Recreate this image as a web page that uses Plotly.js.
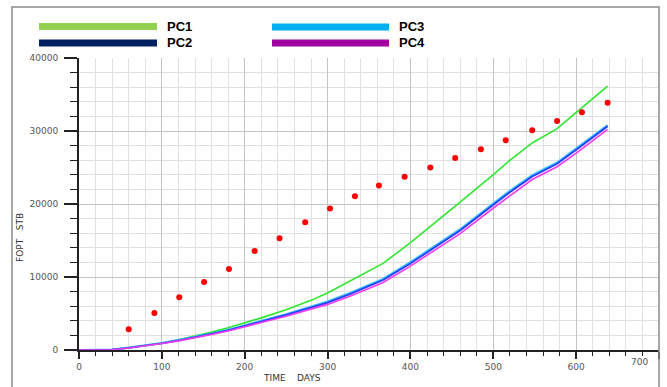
<!DOCTYPE html>
<html>
<head>
<meta charset="utf-8">
<script src="https://cdn.plot.ly/plotly-3.0.1.min.js"></script>
<style>
html,body{margin:0;padding:0;background:#fff;}
#chart{width:667px;height:387px;}
</style>
</head>
<body>
<div id="chart"></div>
<script>
// Observed data (red dots)
const obsDays = [60, 91, 121, 151, 181, 212, 242, 273, 303, 333, 362, 393, 424, 454, 485, 515, 547, 577, 607, 638];
const obsFOPT = [2840, 5070, 7220, 9320, 11100, 13560, 15300, 17500, 19400, 21070, 22530, 23730, 25010, 26300, 27490, 28730, 30100, 31380, 32580, 33860];

// Simulated curves
const simDays = [0, 20, 40, 60, 80, 100, 120, 140, 160, 180, 200, 220, 250, 280, 300, 327, 367, 399, 436, 460, 499, 520, 547, 577, 601, 638];
const pc1 = [0, 0, 60, 300, 600, 950, 1400, 1900, 2450, 3050, 3700, 4400, 5500, 6800, 7800, 9480, 11860, 14620, 17960, 20250, 23920, 25970, 28360, 30330, 32620, 36150];
const pc2 = [0, 0, 50, 300, 580, 920, 1300, 1700, 2200, 2700, 3250, 3900, 4800, 5800, 6500, 7660, 9580, 11780, 14550, 16360, 19790, 21600, 23780, 25520, 27500, 30640];
const pc3 = [0, 0, 60, 320, 610, 960, 1350, 1760, 2260, 2770, 3330, 3990, 4900, 5920, 6630, 7800, 9730, 11950, 14720, 16540, 19980, 21800, 23960, 25680, 27680, 30800];
const pc4 = [0, 0, 40, 280, 550, 880, 1250, 1640, 2120, 2600, 3130, 3760, 4620, 5580, 6250, 7380, 9250, 11420, 14150, 15950, 19350, 21150, 23350, 25100, 27050, 30230];

// Legend
const legendNames = ["PC1", "PC2", "PC3", "PC4"];
const legendColors = ["#92d050", "#002060", "#00b0f0", "#a000a0"];

// Axis ticks
const xTicks = [0, 100, 200, 300, 400, 500, 600, 700];
const xTickText = ["0", "100", "200", "300", "400", "500", "600", "700"];
const yTicks = [0, 10000, 20000, 30000, 40000];
const yTickText = ["0", "10000", "20000", "30000", "40000"];

const traces = [
  {x: simDays, y: pc1, mode: 'lines', line: {color: '#2ee62e', width: 1.6}, name: 'PC1'},
  {x: simDays, y: pc3, mode: 'lines', line: {color: '#38c4ff', width: 2.2}, name: 'PC3'},
  {x: simDays, y: pc2, mode: 'lines', line: {color: '#2a3cff', width: 1.8}, name: 'PC2'},
  {x: simDays, y: pc4, mode: 'lines', line: {color: '#f03cf0', width: 1.6}, name: 'PC4'},
  {x: obsDays, y: obsFOPT, mode: 'markers', marker: {color: '#ff0000', size: 6}, name: 'OBS'}
];

const axisFont = {family: 'DejaVu Sans, sans-serif', size: 9, color: '#555'};

// Pixel helpers (plot area: 79..659 x, 58..350 y)
const L = 79, R = 659, T = 58, B = 350;
const px = v => (v - L) / (R - L);
const py = v => (B - v) / (B - T);

// the last x label sits left of its tick in the reference: drawn as an annotation at that tick
const lastIdx = xTickText.length - 1;
const xTickShown = xTickText.map((t, i) => i === lastIdx ? '' : t);

const shapes = [
  {type: 'rect', xref: 'paper', yref: 'paper', x0: px(12), x1: px(659), y0: py(400), y1: py(7),
   line: {color: '#8a8a8a', width: 1.5}, fillcolor: 'rgba(0,0,0,0)', layer: 'above'}
];
const legendPos = [[39, 157, 26.5], [39, 157, 43], [272, 389, 27], [272, 389, 43]];
const annotations = [];
legendNames.forEach((n, i) => {
  const p = legendPos[i];
  shapes.push({type: 'line', xref: 'paper', yref: 'paper', x0: px(p[0]), x1: px(p[1]), y0: py(p[2]), y1: py(p[2]),
    line: {color: legendColors[i], width: 7}});
  annotations.push({xref: 'paper', yref: 'paper', x: px(p[1] + 8), y: py(p[2]), xanchor: 'left', yanchor: 'middle',
    text: '<b>' + n + '</b>', showarrow: false,
    font: {family: 'Liberation Sans Narrow, Arial Narrow, sans-serif', size: 13, color: '#000'}});
});
annotations.push({xref: 'x', yref: 'paper', x: xTicks[lastIdx], y: py(362), xanchor: 'right', yanchor: 'middle', xshift: -9,
  text: xTickText[lastIdx], showarrow: false, font: axisFont});
annotations.push({xref: 'paper', yref: 'paper', x: px(292), y: py(378), xanchor: 'center', yanchor: 'middle',
  text: 'TIME\u00a0\u00a0\u00a0\u00a0DAYS', showarrow: false, font: {family: 'DejaVu Sans, sans-serif', size: 9, color: '#333'}});
annotations.push({xref: 'paper', yref: 'paper', x: px(20), y: py(238), xanchor: 'center', yanchor: 'middle', textangle: -90,
  text: 'FOPT\u00a0\u00a0\u00a0STB', showarrow: false, font: {family: 'DejaVu Sans, sans-serif', size: 9, color: '#333'}});

const layout = {
  width: 667, height: 387,
  margin: {l: L, r: 667 - R, t: T, b: 387 - B},
  paper_bgcolor: '#fff', plot_bgcolor: '#fff',
  showlegend: false,
  xaxis: {
    range: [0, 700], tickvals: xTicks, ticktext: xTickShown,
    showgrid: true, gridcolor: '#c4c4c4', gridwidth: 1,
    showline: true, linecolor: '#222', linewidth: 2, zeroline: false,
    ticks: 'outside', ticklen: 7, tickwidth: 2, tickcolor: '#222',
    tickfont: axisFont,
    minor: {dtick: 20, tick0: 0, ticks: 'outside', ticklen: 4, tickcolor: '#222', tickwidth: 1, showgrid: true, gridcolor: '#e0e0e0', gridwidth: 1}
  },
  yaxis: {
    range: [0, 40000], tickvals: yTicks, ticktext: yTickText,
    showgrid: true, gridcolor: '#c4c4c4', gridwidth: 1,
    showline: true, linecolor: '#222', linewidth: 2, zeroline: false,
    ticks: 'outside', ticklen: 13, tickwidth: 2, tickcolor: '#222',
    tickfont: axisFont, ticklabelstandoff: 4,
    minor: {dtick: 2000, tick0: 0, ticks: 'outside', ticklen: 7, tickcolor: '#222', tickwidth: 1, showgrid: true, gridcolor: '#e0e0e0', gridwidth: 1}
  },
  shapes: shapes,
  annotations: annotations
};

Plotly.newPlot('chart', traces, layout, {displayModeBar: false, staticPlot: true});
</script>
</body>
</html>
